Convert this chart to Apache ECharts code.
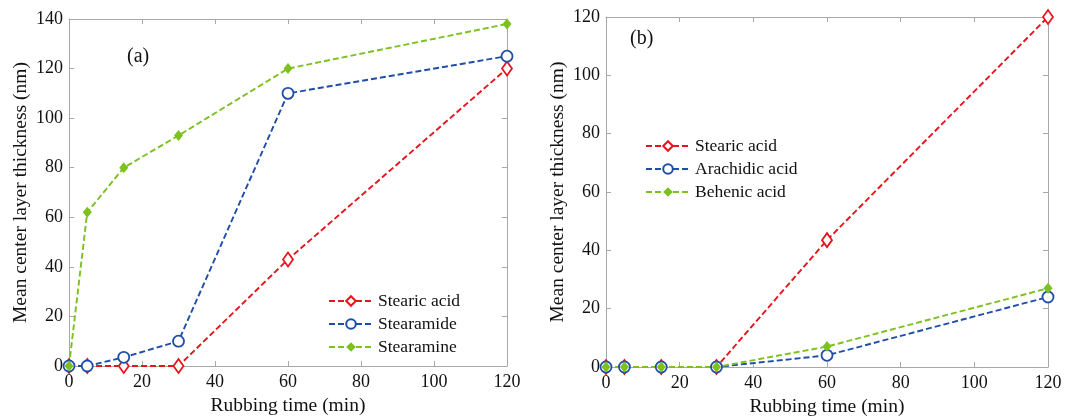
<!DOCTYPE html>
<html><head><meta charset="utf-8">
<script src="https://cdn.jsdelivr.net/npm/echarts@6/dist/echarts.min.js"></script>
<style>html,body{margin:0;padding:0;background:#fff}#c{width:1066px;height:416px}</style>
</head><body><div id="c"></div>
<script>
const times = [0, 5, 15, 30, 60, 120];
const aNames = ['Stearic acid', 'Stearamide', 'Stearamine'];
const aStearicAcid = [0, 0, 0, 0, 43, 120];
const aStearamide = [0, 0, 3.5, 10, 110, 125];
const aStearamine = [0, 62, 80, 93, 120, 138];
const bNames = ['Stearic acid', 'Arachidic acid', 'Behenic acid'];
const bStearicAcid = [0, 0, 0, 0, 43.5, 120];
const bArachidic = [0, 0, 0, 0, 4, 24];
const bBehenic = [0, 0, 0, 0, 7, 27];
const xTicks = [0, 20, 40, 60, 80, 100, 120];

const RED = '#e8141c', BLUE = '#1f4ea8', GREEN = '#7cc11f';
const FONT = 'Liberation Serif';
const pairs = v => times.map((t, i) => [t, v[i]]);

function mk(name, vals, color, kind, xi, yi) {
  const base = {
    name, type: 'line', data: pairs(vals), xAxisIndex: xi, yAxisIndex: yi,
    lineStyle: { color, width: 1.9, type: [6, 3] },
    itemStyle: { color, borderColor: color }, symbolKeepAspect: true,
    emphasis: { disabled: true }, animation: false, clip: false
  };
  if (kind === 'diamond') {
    Object.assign(base, { symbol: 'diamond', symbolSize: [10, 14], itemStyle: { color: '#fff', borderColor: color, borderWidth: 1.8 } });
  } else if (kind === 'circle') {
    Object.assign(base, { symbol: 'circle', symbolSize: 11, itemStyle: { color: '#fff', borderColor: color, borderWidth: 1.8 } });
  } else {
    Object.assign(base, { symbol: 'diamond', symbolSize: [9, 11], itemStyle: { color: color, borderColor: color, borderWidth: 0 } });
  }
  return base;
}

const axLine = { show: true, onZero: false, lineStyle: { color: '#a8a8a8', width: 1 } };
const tick = { show: true, inside: true, length: 5, lineStyle: { color: '#a8a8a8' } };
const lbl = { color: '#111', fontFamily: FONT, fontSize: 18 };
const nameStyle = { color: '#111', fontFamily: FONT, fontSize: 19.5 };

function xAxes(gi) {
  return [
    { type: 'value', gridIndex: gi, min: 0, max: 120, interval: 20, axisLine: axLine, axisTick: tick, splitLine: { show: false },
      axisLabel: Object.assign({ margin: 7 }, lbl), name: 'Rubbing time (min)', nameLocation: 'middle', nameGap: 25, nameTextStyle: nameStyle },
    { type: 'value', gridIndex: gi, position: 'top', min: 0, max: 120, interval: 20, axisLine: axLine, axisTick: tick, splitLine: { show: false }, axisLabel: { show: false } }
  ];
}
function yAxes(gi, max) {
  return [
    { type: 'value', gridIndex: gi, min: 0, max: max, interval: 20, axisLine: axLine, axisTick: tick, splitLine: { show: false },
      axisLabel: Object.assign({ margin: 6 }, lbl), name: 'Mean center layer thickness (nm)', nameLocation: 'middle', nameGap: 38, nameTextStyle: nameStyle },
    { type: 'value', gridIndex: gi, position: 'right', min: 0, max: max, interval: 20, axisLine: axLine, axisTick: tick, splitLine: { show: false }, axisLabel: { show: false } }
  ];
}

const legendText = { color: '#111', fontFamily: FONT, fontSize: 17.5 };
const option = {
  backgroundColor: '#fff',
  animation: false,
  grid: [
    { left: 69, top: 19, width: 438, height: 347, containLabel: false, outerBoundsMode: 'none' },
    { left: 606, top: 17, width: 442, height: 350, containLabel: false, outerBoundsMode: 'none' }
  ],
  xAxis: [...xAxes(0), ...xAxes(1)],
  yAxis: [...yAxes(0, 140), ...yAxes(1, 120)],
  legend: [
    { data: aNames.map(n => ({ name: n })), left: 323, top: 287, orient: 'vertical', itemWidth: 44, itemHeight: 12, itemGap: 5, textStyle: legendText,
      selectedMode: false },
    { data: bNames.map(n => ({ name: n + ' ' })), left: 640, top: 132, orient: 'vertical', itemWidth: 44, itemHeight: 12, itemGap: 5, textStyle: legendText,
      selectedMode: false }
  ],
  series: [
    mk(aNames[0], aStearicAcid, RED, 'diamond', 0, 0),
    mk(aNames[1], aStearamide, BLUE, 'circle', 0, 0),
    mk(aNames[2], aStearamine, GREEN, 'filled', 0, 0),
    mk(bNames[0] + ' ', bStearicAcid, RED, 'diamond', 2, 2),
    mk(bNames[1] + ' ', bArachidic, BLUE, 'circle', 2, 2),
    mk(bNames[2] + ' ', bBehenic, GREEN, 'filled', 2, 2)
  ],
  graphic: [
    { type: 'text', left: 127, top: 47, style: { text: '(a)', font: '20px "Liberation Serif"', fill: '#111' } },
    { type: 'text', left: 630, top: 29, style: { text: '(b)', font: '20px "Liberation Serif"', fill: '#111' } }
  ]
};
const chart = echarts.init(document.getElementById('c'), null, { renderer: 'canvas' });
chart.setOption(option);
</script></body></html>
